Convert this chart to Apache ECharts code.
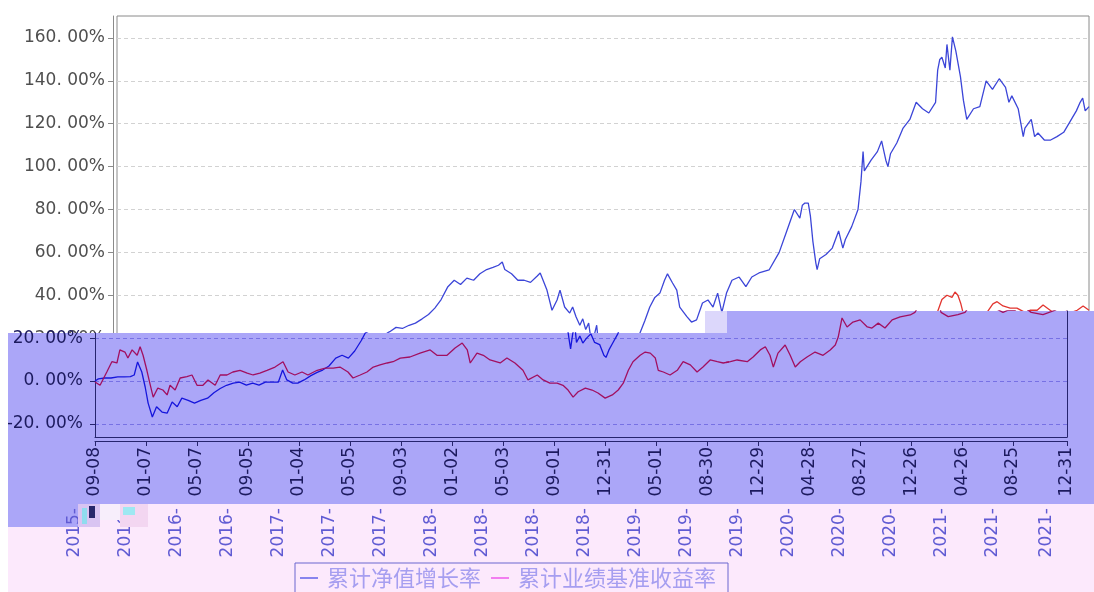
<!DOCTYPE html>
<html>
<head>
<meta charset="utf-8">
<script src="https://cdn.jsdelivr.net/npm/echarts@6/dist/echarts.min.js"></script>
<style>
html, body { margin: 0; padding: 0; background: #fff; }
#chart { width: 1094px; height: 592px; }
</style>
</head>
<body>
<div id="chart"></div>
<script>
var seriesNames = ['累计净值增长率', '累计业绩基准收益率'];

var navDates = [
    '2015-09-08','2015-09-16','2015-10-01','2015-10-16','2015-11-01','2015-11-16','2015-12-01','2015-12-10','2015-12-18','2015-12-28',
    '2016-01-05','2016-01-12','2016-01-22','2016-02-01','2016-02-14','2016-02-26','2016-03-09','2016-03-21','2016-04-01','2016-04-16',
    '2016-05-01','2016-05-16','2016-06-01','2016-06-16','2016-07-01','2016-07-16','2016-08-01','2016-08-16','2016-09-01','2016-09-16',
    '2016-10-01','2016-10-16','2016-11-01','2016-11-16','2016-11-26','2016-12-06','2016-12-20','2017-01-01','2017-01-16','2017-02-01',
    '2017-02-16','2017-03-01','2017-03-16','2017-04-01','2017-04-16','2017-05-01','2017-05-16','2017-06-01','2017-06-10','2017-06-16',
    '2017-07-01','2017-07-16','2017-08-01','2017-08-16','2017-09-01','2017-09-16','2017-10-01','2017-10-16','2017-11-01','2017-11-16',
    '2017-12-01','2017-12-16','2018-01-01','2018-01-16','2018-02-01','2018-02-16','2018-03-01','2018-03-10','2018-03-16','2018-04-01',
    '2018-04-16','2018-05-01','2018-05-16','2018-06-01','2018-06-08','2018-06-24','2018-07-06','2018-07-18','2018-07-25','2018-08-05',
    '2018-08-17','2018-08-24','2018-09-01','2018-09-10','2018-09-17','2018-09-24','2018-10-01','2018-10-06','2018-10-10','2018-10-15',
    '2018-10-20','2018-10-24','2018-11-01','2018-11-08','2018-11-17','2018-11-27','2018-12-06','2018-12-18','2018-12-28','2019-01-02',
    '2019-01-09','2019-01-18','2019-01-30','2019-02-11','2019-02-23','2019-03-07','2019-03-19','2019-03-30','2019-04-06','2019-04-18',
    '2019-04-28','2019-05-05','2019-05-22','2019-06-02','2019-06-14','2019-06-28','2019-07-11','2019-07-23','2019-08-03','2019-08-13',
    '2019-08-24','2019-09-06','2019-09-23','2019-10-09','2019-10-23','2019-11-09','2019-12-03','2019-12-27','2020-01-14','2020-02-01',
    '2020-02-14','2020-02-20','2020-02-26','2020-03-05','2020-03-10','2020-03-16','2020-03-23','2020-03-26','2020-04-01','2020-04-16',
    '2020-05-01','2020-05-16','2020-05-26','2020-06-01','2020-06-16','2020-07-01','2020-07-08','2020-07-13','2020-07-16','2020-08-01',
    '2020-08-16','2020-08-26','2020-09-05','2020-09-10','2020-09-16','2020-10-01','2020-10-16','2020-11-01','2020-11-16','2020-12-01',
    '2020-12-16','2021-01-01','2021-01-06','2021-01-11','2021-01-16','2021-01-24','2021-01-28','2021-02-04','2021-02-10','2021-02-18',
    '2021-03-01','2021-03-08','2021-03-16','2021-04-01','2021-04-16','2021-05-01','2021-05-16','2021-06-01','2021-06-16','2021-06-24',
    '2021-07-01','2021-07-16','2021-07-28','2021-08-01','2021-08-16','2021-08-24','2021-09-01','2021-09-16','2021-10-01','2021-10-16',
    '2021-11-01','2021-11-16','2021-12-01','2021-12-10','2021-12-16','2021-12-22','2021-12-31'
];
var navValues = [
    0, 1.0, 1.4, 1.4, 1.9, 1.9, 2.0, 2.8, 8.9, 4.2,
    -2.8, -10.3, -16.8, -12, -14.5, -15, -9.8, -12, -8, -9,
    -10.3, -9, -8, -5.5, -3.5, -2, -1, -0.5, -1.9, -1,
    -1.9, -0.5, -0.5, -0.5, 5.1, 0.5, -1, -1, 0.5, 2.5,
    4, 5.1, 7, 10.7, 12, 10.7, 14, 19, 22.4, 23,
    25, 24.5, 26, 27, 29, 31, 34, 38, 44, 47,
    45, 48, 47, 50, 52, 53, 54, 55.5, 52, 50,
    47, 47, 46, 49, 50.4, 42.4, 33, 37.8, 42.4, 34.5,
    31.7, 34.5, 30, 26, 29, 24, 27, 20, 15, 22,
    26, 18, 21, 17.7, 20, 22, 18, 17, 12, 11,
    14.5, 17.7, 22, 28, 34.5, 39, 41, 47, 50, 45.7,
    42.4, 34.5, 30, 27.5, 28.5, 36.4, 37.8, 34.5, 41, 32,
    41, 47, 48.5, 44, 48.5, 50.4, 51.8, 60, 70, 80,
    76, 82, 83, 83, 77, 65, 55, 52, 57, 59,
    62, 70, 62, 66, 72, 80, 93, 107, 98, 103,
    107, 112, 103, 100, 106, 111, 118, 122, 130, 127,
    125, 130, 145, 150, 151, 146, 157, 145, 160.5, 154,
    142, 131, 122, 127, 128, 140, 136, 141, 137, 130,
    133, 127, 114, 118, 122, 114, 115.7, 112.4, 112.4, 114,
    116, 121, 126, 130, 132, 126, 128
];

var benchDates = [
    '2015-09-08','2015-09-20','2015-10-06','2015-10-18','2015-10-30','2015-11-06','2015-11-18','2015-11-25','2015-12-05','2015-12-17',
    '2015-12-24','2015-12-31','2016-01-09','2016-01-16','2016-01-24','2016-02-04','2016-02-16','2016-02-26','2016-03-04','2016-03-16',
    '2016-03-28','2016-04-13','2016-04-25','2016-05-07','2016-05-21','2016-06-02','2016-06-19','2016-07-01','2016-07-17','2016-07-31',
    '2016-08-17','2016-09-03','2016-09-17','2016-10-03','2016-10-20','2016-11-08','2016-11-27','2016-12-09','2016-12-25','2017-01-11',
    '2017-01-25','2017-02-16','2017-03-07','2017-03-26','2017-04-11','2017-04-30','2017-05-12','2017-05-29','2017-06-14','2017-06-29',
    '2017-07-15','2017-08-01','2017-08-15','2017-09-01','2017-09-24','2017-10-18','2017-11-11','2017-11-27','2017-12-21','2018-01-09',
    '2018-01-26','2018-02-07','2018-02-14','2018-03-02','2018-03-17','2018-04-02','2018-04-26','2018-05-12','2018-05-31','2018-06-19',
    '2018-07-01','2018-07-23','2018-08-06','2018-08-22','2018-09-08','2018-09-22','2018-10-04','2018-10-16','2018-10-28','2018-11-14',
    '2018-11-30','2018-12-14','2018-12-31','2019-01-17','2019-01-31','2019-02-12','2019-02-24','2019-03-07','2019-03-24','2019-04-05',
    '2019-04-17','2019-04-29','2019-05-06','2019-05-18','2019-06-03','2019-06-20','2019-07-04','2019-07-21','2019-08-06','2019-08-20',
    '2019-09-06','2019-09-23','2019-10-07','2019-10-24','2019-11-09','2019-12-03','2019-12-17','2020-01-03','2020-01-15','2020-01-26',
    '2020-02-03','2020-02-14','2020-03-02','2020-03-14','2020-03-26','2020-04-07','2020-04-23','2020-05-12','2020-05-31','2020-06-17',
    '2020-06-29','2020-07-06','2020-07-15','2020-07-27','2020-08-10','2020-08-27','2020-09-13','2020-09-24','2020-10-09','2020-10-25',
    '2020-11-11','2020-11-30','2020-12-24','2021-01-04','2021-01-07','2021-01-16','2021-01-28','2021-02-09','2021-02-16','2021-02-23',
    '2021-03-02','2021-03-07','2021-03-24','2021-04-16','2021-05-03','2021-05-17','2021-05-27','2021-06-10','2021-06-27','2021-07-13',
    '2021-08-01','2021-08-13','2021-08-30','2021-09-13','2021-10-07','2021-11-04','2021-12-03','2021-12-17','2021-12-31'
];
var benchValues = [
    -0.5, -2, 4.2, 9, 8.4, 14.5, 13.5, 10.7, 14.5, 12,
    16, 12, 5, -1, -7.5, -3.3, -4.2, -6.5, -2, -4.2,
    1.4, 2, 2.8, -2, -2, 0.5, -2, 2.8, 2.8, 4.2,
    5, 3.7, 2.8, 3.7, 5, 6.5, 9, 4.2, 2.8, 4.2,
    2.8, 5, 6, 6, 6.5, 4.2, 1.4, 2.8, 4.2, 6.5,
    7.5, 8.4, 9, 10.7, 11.2, 13, 14.5, 12, 12, 15.4,
    17.7, 14.5, 8.4, 13, 12, 9.8, 8.4, 10.7, 8.4, 5,
    0.5, 2.8, 0.5, -1, -1, -2, -4.2, -7.5, -5, -3.3,
    -4.2, -5.6, -8, -6.5, -4.2, -1, 5, 9, 12, 13.5,
    13, 10.7, 5, 4.2, 2.8, 5, 9, 7.5, 4.2, 6.5,
    9.8, 9, 8.4, 9, 9.8, 9, 11.2, 14.5, 16, 12,
    6.5, 13, 16.8, 12, 6.5, 9, 11.2, 13.5, 12, 14.5,
    16.8, 20.5, 29.4, 25.2, 27.5, 28.5, 25.2, 24.7, 27, 24.7,
    28.5, 29.9, 30.8, 32, 33, 38, 40, 39, 41.5, 40,
    36, 32, 30, 31, 32, 36, 37, 35, 34, 34,
    32, 33, 33, 35.5, 32, 31, 33, 35, 33
];

// x ticks of the original chart: every 121 days, last one at the end date
var tickDates = [
    '2015-09-08','2016-01-07','2016-05-07','2016-09-05','2017-01-04','2017-05-05','2017-09-03',
    '2018-01-02','2018-05-03','2018-09-01','2018-12-31','2019-05-01','2019-08-30','2019-12-29',
    '2020-04-28','2020-08-27','2020-12-26','2021-04-26','2021-08-25','2021-12-31'
];
// the pasted copy changes its top edge at this date
var splitDate = '2019-10-16';

var parse = function (d) { return +echarts.time.parse(d); };
var tStart = parse(tickDates[0]);
var tEnd = parse(tickDates[tickDates.length - 1]);
var tSplit = parse(splitDate);
var tickTimes = tickDates.map(parse);
var leftTicks = tickTimes.filter(function (t) { return t <= tSplit; });
var rightTicks = tickTimes.filter(function (t) { return t >= tSplit; });

function toPairs(dates, values) {
    return dates.map(function (d, i) { return [parse(d), values[i]]; });
}
var navData = toPairs(navDates, navValues);
var benchData = toPairs(benchDates, benchValues);

var yMin = -26.12;
var font = 'DejaVu Sans';

function pctLabel(v) {
    return '{t|' + v.toFixed(2).replace('.', '. ') + '%}';
}

function valueAxis(grid, max, opts) {
    return {
        type: 'value',
        gridIndex: grid,
        min: yMin,
        max: max,
        minInterval: 20,
        maxInterval: 20,
        offset: 4,
        z: opts.z,
        axisLine: {show: opts.line, lineStyle: {color: opts.lineColor}},
        axisTick: {show: opts.line, length: 5, lineStyle: {color: opts.lineColor}},
        axisLabel: {
            show: opts.line,
            showMinLabel: false,
            showMaxLabel: false,
            margin: 8,
            color: opts.textColor,
            fontSize: 17,
            fontFamily: font,
            formatter: pctLabel,
            rich: {
                t: {fontSize: 17, fontFamily: font, color: opts.textColor}
            }
        },
        splitLine: {
            show: true,
            showMinLine: false,
            showMaxLine: false,
            lineStyle: {color: opts.splitColor, type: [4, 3]}
        }
    };
}

function borderAxis(grid, position, color) {
    return {
        type: 'value',
        gridIndex: grid,
        position: position,
        min: 0,
        max: 1,
        offset: 0,
        z: 20,
        axisLine: {show: true, onZero: false, lineStyle: {color: color}},
        axisTick: {show: false},
        axisLabel: {show: false},
        splitLine: {show: false}
    };
}

function dateAxis(grid, min, max, ticks, opts) {
    return {
        type: 'value',
        gridIndex: grid,
        min: min,
        max: max,
        offset: 4,
        z: opts.z,
        axisLine: {show: opts.line, onZero: false, lineStyle: {color: opts.color}},
        axisTick: {show: opts.line, length: 5, customValues: ticks, lineStyle: {color: opts.color}},
        axisLabel: {
            show: opts.label,
            customValues: ticks,
            rotate: 90,
            margin: opts.margin,
            color: opts.textColor,
            fontSize: 17,
            fontFamily: font,
            formatter: function (v) {
                return echarts.time.format(v, opts.template, false);
            }
        },
        splitLine: {show: false}
    };
}

function line(name, data, xi, yi, color, z) {
    return {
        name: name,
        type: 'line',
        xAxisIndex: xi,
        yAxisIndex: yi,
        data: data,
        showSymbol: false,
        symbol: 'none',
        clip: true,
        z: z,
        lineStyle: {color: color, width: 1.3},
        itemStyle: {color: color},
        emphasis: {disabled: true}
    };
}

var navy = '#26246e';
var purpleText = '#1c1a5e';

var chart = echarts.init(document.getElementById('chart'));
chart.setOption({
    backgroundColor: '#ffffff',
    animation: false,
    grid: [
        {left: 117, top: 16, width: 972, height: 421, show: true, borderColor: '#8a8a8a', borderWidth: 1, outerBoundsMode: 'none'},
        {left: 95, top: 333, width: 632, height: 104, outerBoundsMode: 'none'},
        {left: 727, top: 311, width: 340, height: 126, outerBoundsMode: 'none'},
        {left: 75, top: 16, width: 972, height: 421, outerBoundsMode: 'none'}
    ],
    xAxis: [
        dateAxis(0, tStart, tEnd, tickTimes, {z: 0, line: true, label: false, color: '#8a8a8a', margin: 6, textColor: '#555', template: '{MM}-{dd}'}),
        dateAxis(1, tStart, tSplit, leftTicks, {z: 20, line: true, label: true, color: navy, margin: 6, textColor: purpleText, template: '{MM}-{dd}'}),
        dateAxis(2, tSplit, tEnd, rightTicks, {z: 20, line: true, label: true, color: navy, margin: 6, textColor: purpleText, template: '{MM}-{dd}'}),
        borderAxis(1, 'bottom', navy),
        borderAxis(2, 'bottom', navy),
        dateAxis(3, tStart, tEnd, tickTimes, {z: 30, line: false, label: true, color: navy, margin: 67, textColor: '#605bd3', template: '{yyyy}-'})
    ],
    yAxis: [
        valueAxis(0, 170.26, {z: 0, line: true, lineColor: '#8a8a8a', textColor: '#4f4f4f', splitColor: '#d2d2d2'}),
        valueAxis(1, 22.39, {z: 20, line: true, lineColor: navy, textColor: purpleText, splitColor: '#7771e4'}),
        valueAxis(2, 32.65, {z: 20, line: false, lineColor: navy, textColor: purpleText, splitColor: '#7771e4'}),
        borderAxis(1, 'left', navy),
        borderAxis(2, 'right', navy),
        {type: 'value', gridIndex: 3, show: false, min: 0, max: 1}
    ],
    legend: {
        left: 295,
        top: 563,
        padding: [4, 12, 4, 5],
        itemGap: 10,
        itemWidth: 18,
        itemHeight: 2,
        icon: 'rect',
        selectedMode: false,
        borderColor: '#6b67cf',
        borderWidth: 1,
        z: 40,
        textStyle: {color: '#a69ef0', fontSize: 22, fontFamily: 'Noto Sans CJK SC', padding: [0, 0, 0, 4]},
        data: [
            {name: seriesNames[0], itemStyle: {color: '#8884ee'}},
            {name: seriesNames[1], itemStyle: {color: '#f27df0'}}
        ]
    },
    graphic: {
        elements: [
            {
                type: 'polygon', silent: true, z: 10,
                shape: {points: [[8, 333], [727, 333], [727, 311], [1094, 311], [1094, 504], [78, 504], [78, 527], [8, 527]]},
                style: {fill: '#aba6f8'}
            },
            {
                type: 'polygon', silent: true, z: 10,
                shape: {points: [[78, 504], [1094, 504], [1094, 592], [8, 592], [8, 527], [78, 527]]},
                style: {fill: '#fce9fc'}
            },
            {type: 'rect', silent: true, z: 15, shape: {x: 705, y: 311, width: 22, height: 22}, style: {fill: 'rgba(214,208,250,0.85)'}},
            {type: 'rect', silent: true, z: 35, shape: {x: 78, y: 504, width: 22, height: 23}, style: {fill: '#d9c4f2'}},
            {type: 'rect', silent: true, z: 36, shape: {x: 82, y: 508, width: 5, height: 16}, style: {fill: '#8fdcef'}},
            {type: 'rect', silent: true, z: 36, shape: {x: 89, y: 506, width: 6, height: 12}, style: {fill: '#27276a'}},
            {type: 'rect', silent: true, z: 35, shape: {x: 100, y: 504, width: 20, height: 16}, style: {fill: '#f7eefb'}},
            {type: 'rect', silent: true, z: 35, shape: {x: 120, y: 504, width: 28, height: 23}, style: {fill: '#f3d6f1'}},
            {type: 'rect', silent: true, z: 36, shape: {x: 123, y: 507, width: 12, height: 8}, style: {fill: '#9ee8f2'}},
            {type: 'rect', silent: true, z: 45, shape: {x: 0, y: 300, width: 8, height: 292}, style: {fill: '#ffffff'}}
        ]
    },
    series: [
        line(seriesNames[0], navData, 0, 0, '#3c46d8', 2),
        line(seriesNames[1], benchData, 0, 0, '#e2352f', 3),
        line(seriesNames[0], navData, 1, 1, '#1616dc', 20),
        line(seriesNames[1], benchData, 1, 1, '#a10f60', 21),
        line(seriesNames[0], navData, 2, 2, '#1616dc', 20),
        line(seriesNames[1], benchData, 2, 2, '#a10f60', 21)
    ]
});
</script>
</body>
</html>
